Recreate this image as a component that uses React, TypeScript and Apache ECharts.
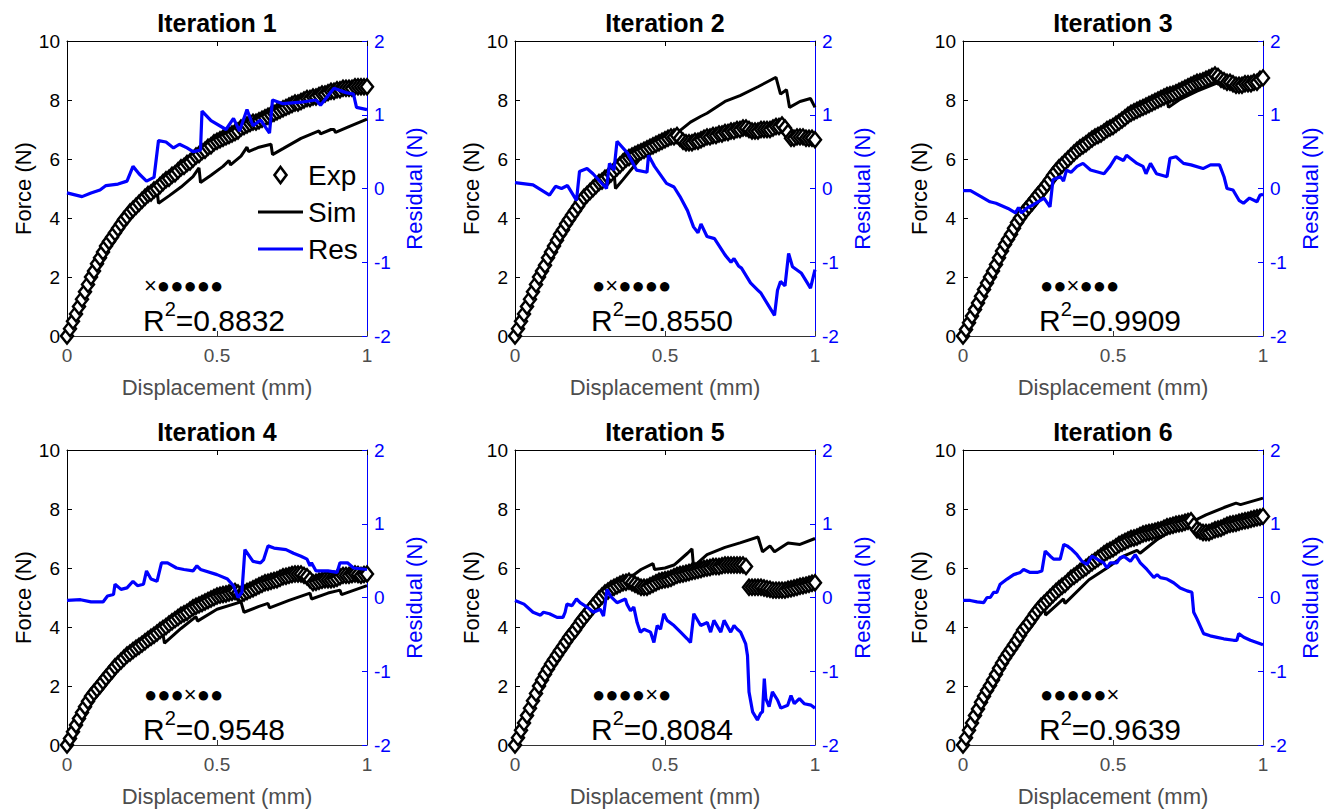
import React, { useEffect, useRef } from "react";
import * as echarts from "echarts";

// ---- data -----------------------------------------------------------
const titles = ["Iteration 1", "Iteration 2", "Iteration 3", "Iteration 4", "Iteration 5", "Iteration 6"];
const r2Values = ["0.8832", "0.8550", "0.9909", "0.9548", "0.8084", "0.9639"];
// position of the varied parameter (×) among the six markers
const variedIndex = [0, 1, 2, 3, 4, 5];

// displacement (mm) at which the experimental force was sampled
const expX = [
  0, 0.01, 0.02, 0.03, 0.04, 0.05, 0.06, 0.07, 0.08, 0.09,
  0.1, 0.11, 0.12, 0.13, 0.14, 0.15, 0.16, 0.17, 0.18, 0.19,
  0.2, 0.21, 0.22, 0.23, 0.24, 0.25, 0.26, 0.27, 0.28, 0.29,
  0.3, 0.31, 0.32, 0.33, 0.34, 0.35, 0.36, 0.37, 0.38, 0.39,
  0.4, 0.41, 0.42, 0.43, 0.44, 0.45, 0.46, 0.47, 0.48, 0.49,
  0.5, 0.51, 0.52, 0.53, 0.54, 0.55, 0.56, 0.57, 0.58, 0.59,
  0.6, 0.61, 0.62, 0.63, 0.64, 0.65, 0.66, 0.67, 0.68, 0.69,
  0.7, 0.71, 0.72, 0.73, 0.74, 0.75, 0.76, 0.77, 0.78, 0.79,
  0.8, 0.81, 0.82, 0.83, 0.84, 0.85, 0.86, 0.87, 0.88, 0.89,
  0.9, 0.91, 0.92, 0.93, 0.94, 0.95, 0.96, 0.97, 0.98, 0.99,
  1,
];

const exp1 = [
  0, 0.25, 0.5, 0.75, 1.0, 1.25, 1.5, 1.75, 2.0, 2.2,
  2.45, 2.65, 2.85, 3.05, 3.2, 3.35, 3.5, 3.65, 3.8, 3.95,
  4.05, 4.2, 4.3, 4.4, 4.5, 4.6, 4.7, 4.8, 4.85, 4.95,
  5.0, 5.1, 5.2, 5.3, 5.35, 5.45, 5.5, 5.6, 5.7, 5.75,
  5.85, 5.9, 6.0, 6.1, 6.15, 6.25, 6.3, 6.4, 6.45, 6.55,
  6.6, 6.65, 6.7, 6.75, 6.8, 6.85, 6.9, 6.95, 7.05, 7.1,
  7.15, 7.2, 7.25, 7.25, 7.3, 7.35, 7.4, 7.45, 7.5, 7.55,
  7.6, 7.65, 7.7, 7.75, 7.8, 7.85, 7.9, 7.9, 7.95, 8.0,
  8.05, 8.05, 8.1, 8.1, 8.15, 8.2, 8.2, 8.25, 8.3, 8.3,
  8.35, 8.35, 8.4, 8.4, 8.4, 8.4, 8.45, 8.45, 8.45, 8.45,
  8.45,
];
const exp2 = [
  0, 0.25, 0.5, 0.75, 1.0, 1.25, 1.5, 1.75, 2.0, 2.2,
  2.4, 2.65, 2.85, 3.05, 3.25, 3.45, 3.6, 3.8, 3.95, 4.1,
  4.25, 4.4, 4.55, 4.7, 4.8, 4.9, 5.0, 5.1, 5.2, 5.25,
  5.35, 5.4, 5.5, 5.6, 5.7, 5.8, 5.9, 6.0, 6.05, 6.1,
  6.15, 6.2, 6.25, 6.3, 6.35, 6.4, 6.45, 6.5, 6.55, 6.6,
  6.65, 6.7, 6.75, 6.75, 6.8, 6.7, 6.6, 6.55, 6.55, 6.55,
  6.6, 6.6, 6.65, 6.7, 6.75, 6.75, 6.8, 6.8, 6.85, 6.85,
  6.9, 6.9, 6.95, 6.95, 7.0, 7.0, 7.05, 7.05, 7.0, 6.95,
  6.95, 6.95, 7.0, 7.0, 7.0, 7.0, 7.05, 7.1, 7.1, 7.15,
  7.05, 6.9, 6.7, 6.7, 6.75, 6.75, 6.75, 6.7, 6.7, 6.7,
  6.65,
];
const exp3 = [
  0, 0.22, 0.45, 0.68, 0.9, 1.12, 1.35, 1.58, 1.8, 2.0,
  2.2, 2.42, 2.65, 2.88, 3.1, 3.28, 3.45, 3.65, 3.85, 4.0,
  4.15, 4.28, 4.4, 4.52, 4.65, 4.78, 4.9, 5.02, 5.15, 5.3,
  5.45, 5.58, 5.7, 5.8, 5.9, 6.0, 6.1, 6.2, 6.3, 6.38,
  6.45, 6.52, 6.6, 6.68, 6.75, 6.8, 6.85, 6.92, 7.0, 7.05,
  7.1, 7.18, 7.25, 7.32, 7.4, 7.48, 7.55, 7.6, 7.65, 7.7,
  7.75, 7.8, 7.85, 7.9, 7.95, 8.0, 8.05, 8.1, 8.15, 8.18,
  8.2, 8.25, 8.3, 8.35, 8.4, 8.45, 8.5, 8.55, 8.6, 8.62,
  8.65, 8.7, 8.75, 8.8, 8.85, 8.8, 8.7, 8.65, 8.6, 8.6,
  8.55, 8.5, 8.5, 8.5, 8.55, 8.55, 8.55, 8.6, 8.6, 8.7,
  8.75,
];
const exp4 = [
  0, 0.22, 0.45, 0.68, 0.9, 1.1, 1.3, 1.48, 1.65, 1.78,
  1.9, 2.02, 2.15, 2.28, 2.4, 2.52, 2.65, 2.75, 2.85, 2.95,
  3.05, 3.12, 3.2, 3.28, 3.35, 3.42, 3.5, 3.58, 3.65, 3.72,
  3.8, 3.88, 3.95, 4.02, 4.1, 4.18, 4.25, 4.32, 4.4, 4.45,
  4.5, 4.58, 4.65, 4.7, 4.75, 4.8, 4.85, 4.9, 4.95, 5.0,
  5.05, 5.08, 5.1, 5.12, 5.15, 5.18, 5.2, 5.15, 5.1, 5.15,
  5.2, 5.25, 5.3, 5.35, 5.4, 5.45, 5.5, 5.52, 5.55, 5.58,
  5.6, 5.65, 5.7, 5.72, 5.75, 5.78, 5.8, 5.8, 5.8, 5.75,
  5.7, 5.6, 5.5, 5.52, 5.55, 5.58, 5.6, 5.6, 5.6, 5.62,
  5.65, 5.7, 5.75, 5.75, 5.75, 5.78, 5.8, 5.78, 5.75, 5.78,
  5.8,
];
const exp5 = [
  0, 0.25, 0.5, 0.75, 1.0, 1.25, 1.5, 1.75, 2.0, 2.2,
  2.4, 2.58, 2.75, 2.9, 3.05, 3.2, 3.35, 3.5, 3.65, 3.78,
  3.9, 4.05, 4.2, 4.32, 4.45, 4.58, 4.7, 4.82, 4.95, 5.05,
  5.15, 5.22, 5.3, 5.35, 5.4, 5.45, 5.5, 5.52, 5.55, 5.5,
  5.45, 5.4, 5.35, 5.35, 5.35, 5.4, 5.45, 5.5, 5.55, 5.58,
  5.6, 5.62, 5.65, 5.7, 5.75, 5.78, 5.8, 5.82, 5.85, 5.88,
  5.9, 5.92, 5.95, 5.98, 6.0, 6.02, 6.05, 6.05, 6.05, 6.08,
  6.1, 6.1, 6.1, 6.1, 6.1, 6.1, 6.1, 6.05, 5.35, 5.35,
  5.35, 5.35, 5.35, 5.32, 5.3, 5.28, 5.25, 5.25, 5.25, 5.25,
  5.25, 5.28, 5.3, 5.32, 5.35, 5.38, 5.4, 5.42, 5.45, 5.48,
  5.5,
];
const exp6 = [
  0, 0.25, 0.5, 0.75, 1.0, 1.22, 1.45, 1.65, 1.85, 2.02,
  2.2, 2.4, 2.6, 2.78, 2.95, 3.1, 3.25, 3.4, 3.55, 3.72,
  3.9, 4.02, 4.15, 4.3, 4.45, 4.58, 4.7, 4.8, 4.9, 5.0,
  5.1, 5.2, 5.3, 5.38, 5.45, 5.55, 5.65, 5.72, 5.8, 5.88,
  5.95, 6.02, 6.1, 6.18, 6.25, 6.32, 6.4, 6.48, 6.55, 6.6,
  6.65, 6.72, 6.8, 6.85, 6.9, 6.95, 7.0, 7.02, 7.05, 7.1,
  7.15, 7.18, 7.2, 7.22, 7.25, 7.28, 7.3, 7.35, 7.4, 7.42,
  7.45, 7.48, 7.5, 7.52, 7.55, 7.58, 7.6, 7.45, 7.3, 7.25,
  7.2, 7.2, 7.2, 7.25, 7.3, 7.32, 7.35, 7.4, 7.45, 7.48,
  7.5, 7.52, 7.55, 7.58, 7.6, 7.62, 7.65, 7.68, 7.7, 7.72,
  7.75,
];

const sim1 = [[0, 0], [0.1, 2.4], [0.2, 4.0], [0.28, 4.8], [0.3, 4.95], [0.305, 4.5], [0.34, 4.75], [0.38, 5.05], [0.42, 5.4], [0.44, 5.7], [0.445, 5.2], [0.48, 5.45], [0.52, 5.75], [0.54, 5.95], [0.545, 5.8], [0.58, 6.1], [0.6, 6.4], [0.605, 6.25], [0.64, 6.4], [0.68, 6.5], [0.685, 6.15], [0.72, 6.35], [0.78, 6.7], [0.84, 6.95], [0.845, 6.85], [0.88, 7.0], [0.89, 7.0], [0.895, 6.9], [0.94, 7.1], [1.0, 7.35]];
const sim2 = [[0, 0], [0.1, 2.4], [0.2, 4.2], [0.3, 5.3], [0.33, 5.55], [0.335, 5.0], [0.36, 5.3], [0.42, 6.05], [0.47, 6.45], [0.53, 6.8], [0.585, 7.25], [0.62, 7.45], [0.64, 7.55], [0.7, 7.95], [0.75, 8.15], [0.81, 8.45], [0.87, 8.77], [0.885, 8.2], [0.905, 8.35], [0.915, 7.75], [0.95, 7.95], [0.985, 8.05], [1.0, 7.75]];
const sim3 = [[0, 0], [0.1, 2.2], [0.2, 4.15], [0.3, 5.35], [0.4, 6.3], [0.45, 6.7], [0.5, 6.95], [0.55, 7.3], [0.6, 7.6], [0.65, 7.85], [0.68, 8.0], [0.685, 7.75], [0.72, 8.0], [0.78, 8.3], [0.84, 8.55], [0.86, 8.6], [0.9, 8.55], [0.95, 8.6], [1.0, 8.7]];
const sim4 = [[0, 0], [0.1, 1.85], [0.2, 2.95], [0.26, 3.4], [0.32, 3.75], [0.325, 3.45], [0.38, 3.95], [0.43, 4.35], [0.435, 4.2], [0.5, 4.6], [0.58, 4.85], [0.59, 4.5], [0.64, 4.7], [0.67, 4.8], [0.675, 4.65], [0.74, 4.9], [0.81, 5.15], [0.815, 4.95], [0.87, 5.15], [0.91, 5.25], [0.915, 5.1], [1.0, 5.4]];
const sim5 = [[0, 0], [0.1, 2.45], [0.2, 3.95], [0.3, 5.25], [0.34, 5.4], [0.36, 5.5], [0.42, 5.95], [0.46, 6.15], [0.465, 5.95], [0.5, 6.0], [0.53, 6.1], [0.575, 6.5], [0.59, 6.65], [0.595, 6.05], [0.64, 6.45], [0.7, 6.7], [0.75, 6.85], [0.81, 7.05], [0.825, 6.55], [0.85, 6.75], [0.865, 6.55], [0.91, 6.85], [0.95, 6.8], [1.0, 7.0]];
const sim6 = [[0, 0], [0.1, 2.2], [0.2, 3.9], [0.27, 4.85], [0.275, 4.4], [0.335, 4.95], [0.34, 4.8], [0.42, 5.6], [0.48, 6.0], [0.535, 6.4], [0.58, 6.6], [0.59, 6.5], [0.645, 6.95], [0.7, 7.3], [0.76, 7.55], [0.81, 7.8], [0.87, 8.05], [0.91, 8.2], [0.925, 8.15], [1.0, 8.37]];

const res1 = [[0, -0.06], [0.05, -0.11], [0.08, -0.06], [0.11, -0.02], [0.13, 0.04], [0.17, 0.06], [0.2, 0.1], [0.22, 0.3], [0.24, 0.2], [0.265, 0.1], [0.29, 0.15], [0.305, 0.65], [0.33, 0.63], [0.355, 0.55], [0.375, 0.6], [0.4, 0.55], [0.42, 0.5], [0.445, 0.52], [0.45, 1.05], [0.48, 0.92], [0.53, 0.8], [0.555, 0.95], [0.575, 0.78], [0.6, 1.07], [0.62, 0.85], [0.645, 0.93], [0.675, 0.75], [0.685, 1.2], [0.72, 1.15], [0.78, 1.17], [0.83, 1.2], [0.845, 1.13], [0.89, 1.36], [0.93, 1.3], [0.955, 1.28], [0.965, 1.1], [1.0, 1.07]];
const res2 = [[0, 0.08], [0.06, 0.05], [0.115, -0.09], [0.135, 0.03], [0.155, 0.0], [0.175, 0.04], [0.205, -0.16], [0.215, 0.23], [0.24, 0.27], [0.26, 0.2], [0.305, 0.0], [0.315, 0.34], [0.33, 0.25], [0.34, 0.64], [0.375, 0.48], [0.405, 0.25], [0.44, 0.22], [0.445, 0.45], [0.465, 0.3], [0.505, 0.07], [0.53, 0.02], [0.55, -0.11], [0.575, -0.3], [0.595, -0.52], [0.61, -0.6], [0.62, -0.48], [0.64, -0.65], [0.665, -0.68], [0.7, -0.9], [0.72, -1.0], [0.73, -0.95], [0.745, -1.05], [0.755, -1.08], [0.785, -1.28], [0.81, -1.38], [0.82, -1.42], [0.865, -1.72], [0.875, -1.38], [0.885, -1.26], [0.9, -1.32], [0.912, -0.88], [0.925, -1.06], [0.955, -1.15], [0.985, -1.35], [1.0, -1.1]];
const res3 = [[0, -0.03], [0.025, -0.03], [0.06, -0.11], [0.09, -0.18], [0.11, -0.2], [0.15, -0.27], [0.175, -0.33], [0.185, -0.26], [0.195, -0.33], [0.215, -0.26], [0.235, -0.22], [0.27, -0.13], [0.29, -0.25], [0.3, 0.12], [0.325, 0.16], [0.335, 0.1], [0.345, 0.25], [0.36, 0.22], [0.38, 0.3], [0.4, 0.34], [0.425, 0.25], [0.47, 0.2], [0.49, 0.3], [0.51, 0.43], [0.535, 0.38], [0.545, 0.45], [0.58, 0.34], [0.6, 0.3], [0.61, 0.2], [0.625, 0.34], [0.645, 0.2], [0.68, 0.16], [0.69, 0.41], [0.71, 0.43], [0.735, 0.34], [0.76, 0.32], [0.8, 0.27], [0.825, 0.32], [0.855, 0.32], [0.87, 0.16], [0.88, 0.0], [0.9, -0.02], [0.92, -0.16], [0.935, -0.2], [0.955, -0.13], [0.98, -0.18], [0.99, -0.09], [1.0, -0.08]];
const res4 = [[0, -0.04], [0.045, -0.03], [0.08, -0.06], [0.12, -0.06], [0.135, 0.02], [0.155, 0.04], [0.16, 0.18], [0.18, 0.11], [0.2, 0.13], [0.22, 0.22], [0.235, 0.16], [0.255, 0.18], [0.265, 0.36], [0.28, 0.25], [0.3, 0.22], [0.315, 0.47], [0.335, 0.47], [0.365, 0.4], [0.39, 0.38], [0.42, 0.36], [0.433, 0.43], [0.445, 0.38], [0.5, 0.31], [0.535, 0.25], [0.555, 0.16], [0.57, 0.0], [0.583, 0.07], [0.593, 0.65], [0.62, 0.49], [0.645, 0.47], [0.655, 0.51], [0.67, 0.7], [0.69, 0.67], [0.73, 0.65], [0.755, 0.6], [0.78, 0.56], [0.8, 0.52], [0.81, 0.43], [0.815, 0.47], [0.83, 0.36], [0.87, 0.36], [0.9, 0.34], [0.91, 0.47], [0.935, 0.47], [0.955, 0.4], [1.0, 0.38]];
const res5 = [[0, -0.04], [0.03, -0.09], [0.06, -0.2], [0.085, -0.24], [0.095, -0.2], [0.115, -0.22], [0.14, -0.27], [0.16, -0.27], [0.167, -0.2], [0.173, -0.09], [0.19, -0.11], [0.205, -0.02], [0.217, -0.07], [0.24, -0.13], [0.262, -0.2], [0.284, -0.16], [0.295, -0.25], [0.307, 0.11], [0.318, 0.02], [0.34, -0.07], [0.368, -0.02], [0.373, -0.09], [0.385, -0.18], [0.396, -0.13], [0.407, -0.34], [0.418, -0.47], [0.43, -0.43], [0.452, -0.47], [0.463, -0.61], [0.474, -0.38], [0.485, -0.43], [0.496, -0.22], [0.507, -0.31], [0.53, -0.38], [0.552, -0.47], [0.574, -0.56], [0.585, -0.61], [0.596, -0.22], [0.619, -0.38], [0.641, -0.34], [0.652, -0.47], [0.663, -0.31], [0.686, -0.47], [0.697, -0.31], [0.719, -0.47], [0.73, -0.38], [0.741, -0.43], [0.752, -0.47], [0.769, -0.63], [0.775, -0.79], [0.78, -1.28], [0.792, -1.55], [0.808, -1.66], [0.819, -1.57], [0.825, -1.55], [0.831, -1.1], [0.836, -1.37], [0.847, -1.48], [0.858, -1.28], [0.875, -1.39], [0.886, -1.5], [0.909, -1.46], [0.92, -1.33], [0.931, -1.44], [0.948, -1.37], [0.964, -1.44], [0.987, -1.46], [1.0, -1.5]];
const res6 = [[0, -0.04], [0.024, -0.04], [0.047, -0.06], [0.069, -0.07], [0.08, 0.0], [0.091, 0.0], [0.102, 0.07], [0.113, 0.07], [0.124, 0.18], [0.147, 0.25], [0.169, 0.31], [0.191, 0.34], [0.202, 0.38], [0.224, 0.34], [0.247, 0.34], [0.263, 0.36], [0.274, 0.63], [0.291, 0.56], [0.302, 0.52], [0.324, 0.52], [0.336, 0.72], [0.347, 0.7], [0.363, 0.65], [0.38, 0.58], [0.397, 0.49], [0.413, 0.45], [0.43, 0.56], [0.447, 0.52], [0.469, 0.47], [0.48, 0.4], [0.491, 0.47], [0.513, 0.47], [0.524, 0.54], [0.536, 0.56], [0.558, 0.49], [0.574, 0.58], [0.591, 0.47], [0.613, 0.38], [0.636, 0.27], [0.647, 0.31], [0.658, 0.27], [0.68, 0.25], [0.702, 0.2], [0.724, 0.13], [0.747, 0.09], [0.763, 0.07], [0.769, -0.2], [0.78, -0.29], [0.802, -0.49], [0.824, -0.52], [0.847, -0.54], [0.869, -0.56], [0.902, -0.58], [0.913, -0.58], [0.919, -0.49], [0.936, -0.54], [0.958, -0.58], [1.0, -0.64]];

const expSets = [exp1, exp2, exp3, exp4, exp5, exp6];
const simSets = [sim1, sim2, sim3, sim4, sim5, sim6];
const resSets = [res1, res2, res3, res4, res5, res6];

// ---- layout -----------------------------------------------------------
const FONT = "'Liberation Sans', Arial, Helvetica, sans-serif";
const GRID_LEFTS = [67, 515, 963];
const GRID_TOPS = [41, 450];
const GRID_W = 300;
const GRID_H = 295;
const BLUE = "#0000ff";
const AXIS_GRAY = "#4d4d4d";
const DIAMOND_ICON = "path://M6 0L12 8L6 16L0 8Z";
const LINE_ICON = "path://M0 0H45V3H0Z";

function buildOption() {
  const grid: any[] = [];
  const xAxis: any[] = [];
  const topAxes: any[] = [];
  const yAxis: any[] = [];
  const series: any[] = [];
  const title: any[] = [];
  const graphic: any[] = [];

  for (let i = 0; i < 6; i++) {
    const col = i % 3;
    const row = Math.floor(i / 3);
    const left = GRID_LEFTS[col];
    const top = GRID_TOPS[row];
    grid.push({ left, top, width: GRID_W, height: GRID_H, containLabel: false });

    xAxis.push({
      type: "value",
      gridIndex: i,
      min: 0,
      max: 1,
      interval: 0.5,
      position: "bottom",
      name: "Displacement (mm)",
      nameLocation: "middle",
      nameGap: 40,
      nameTextStyle: { fontSize: 22, color: AXIS_GRAY, fontFamily: FONT },
      axisLine: { show: true, onZero: false, lineStyle: { color: "#333", width: 1 } },
      axisTick: { show: true, inside: true, length: 5, lineStyle: { color: "#333" } },
      axisLabel: { fontSize: 19, color: AXIS_GRAY, margin: 10, fontFamily: FONT, formatter: (v: number) => String(v) },
      splitLine: { show: false },
    });
    // top edge of the axes box
    topAxes.push({
      type: "value",
      gridIndex: i,
      min: 0,
      max: 1,
      interval: 0.5,
      position: "top",
      axisLine: { show: true, onZero: false, lineStyle: { color: "#000", width: 1 } },
      axisTick: { show: true, inside: true, length: 5, lineStyle: { color: "#000" } },
      axisLabel: { show: false },
      splitLine: { show: false },
    });

    yAxis.push({
      type: "value",
      gridIndex: i,
      min: 0,
      max: 10,
      interval: 2,
      position: "left",
      name: "Force (N)",
      nameLocation: "middle",
      nameRotate: 90,
      nameGap: 31,
      nameTextStyle: { fontSize: 22, color: "#000", fontFamily: FONT },
      axisLine: { show: true, onZero: false, lineStyle: { color: "#000", width: 1 } },
      axisTick: { show: true, inside: true, length: 5, lineStyle: { color: "#000" } },
      axisLabel: { fontSize: 19, color: "#000", margin: 7, fontFamily: FONT },
      splitLine: { show: false },
    });
    yAxis.push({
      type: "value",
      gridIndex: i,
      min: -2,
      max: 2,
      interval: 1,
      position: "right",
      name: "Residual (N)",
      nameLocation: "middle",
      nameRotate: 90,
      nameGap: 36,
      nameTextStyle: { fontSize: 22, color: BLUE, fontFamily: FONT },
      axisLine: { show: true, onZero: false, lineStyle: { color: BLUE, width: 1 } },
      axisTick: { show: true, inside: true, length: 5, lineStyle: { color: BLUE } },
      axisLabel: { fontSize: 19, color: BLUE, margin: 7, fontFamily: FONT },
      splitLine: { show: false },
    });

    series.push({
      type: "line",
      name: "Sim",
      xAxisIndex: i,
      yAxisIndex: 2 * i,
      data: simSets[i],
      symbol: "none",
      lineStyle: { color: "#000", width: 3 },
      itemStyle: { color: "#000" },
      z: 2,
    });
    series.push({
      type: "scatter",
      name: "Exp",
      xAxisIndex: i,
      yAxisIndex: 2 * i,
      data: expX.map((x, k) => [x, expSets[i][k]]),
      symbol: "diamond",
      symbolSize: [12, 15],
      itemStyle: { color: "#fff", borderColor: "#000", borderWidth: 2.5, opacity: 1 },
      z: 3,
    });
    series.push({
      type: "line",
      name: "Res",
      xAxisIndex: i,
      yAxisIndex: 2 * i + 1,
      data: resSets[i],
      symbol: "none",
      lineStyle: { color: BLUE, width: 3.2 },
      itemStyle: { color: BLUE },
      z: 4,
    });

    title.push({
      text: titles[i],
      left: left + GRID_W / 2,
      top: top - 31,
      textAlign: "center",
      padding: 0,
      textStyle: { fontSize: 25, fontWeight: "bold", color: "#000", fontFamily: FONT },
    });

    const markers = [0, 1, 2, 3, 4, 5].map((k) => (k === variedIndex[i] ? "×" : "●")).join("");
    graphic.push({
      type: "text",
      left: left + 77,
      top: top + 233,
      style: { text: markers, font: `22px ${FONT}`, fill: "#000" },
      z: 100,
    });
    graphic.push({
      type: "text",
      left: left + 76,
      top: top + 258,
      style: {
        text: `{r|R}{s|2}{r|=${r2Values[i]}}`,
        fill: "#000",
        rich: {
          r: { fontSize: 30, fontFamily: FONT, lineHeight: 36, verticalAlign: "bottom" },
          s: { fontSize: 20, fontFamily: FONT, lineHeight: 36, verticalAlign: "top" },
        },
      },
      z: 100,
    });
  }

  return {
    animation: false,
    backgroundColor: "#ffffff",
    textStyle: { fontFamily: FONT },
    title,
    grid,
    xAxis: xAxis.concat(topAxes),
    yAxis,
    series,
    graphic,
    legend: {
      show: true,
      selectedMode: false,
      orient: "vertical",
      left: 258,
      top: 161,
      padding: 0,
      itemWidth: 45,
      itemHeight: 16,
      itemGap: 9,
      textStyle: { fontSize: 28, color: "#000", fontFamily: FONT },
      data: [
        { name: "Exp", icon: DIAMOND_ICON, itemStyle: { borderWidth: 2.6 } },
        { name: "Sim", icon: LINE_ICON },
        { name: "Res", icon: LINE_ICON },
      ],
    },
  };
}

export default function App() {
  const ref = useRef<HTMLDivElement>(null);
  useEffect(() => {
    if (!ref.current) return;
    const chart = echarts.init(ref.current, undefined, { renderer: "svg" });
    chart.setOption(buildOption() as any);
    return () => chart.dispose();
  }, []);
  return (
    <div
      ref={ref}
      style={{ position: "fixed", left: 0, top: 0, width: 1331, height: 809, background: "#fff" }}
    />
  );
}
